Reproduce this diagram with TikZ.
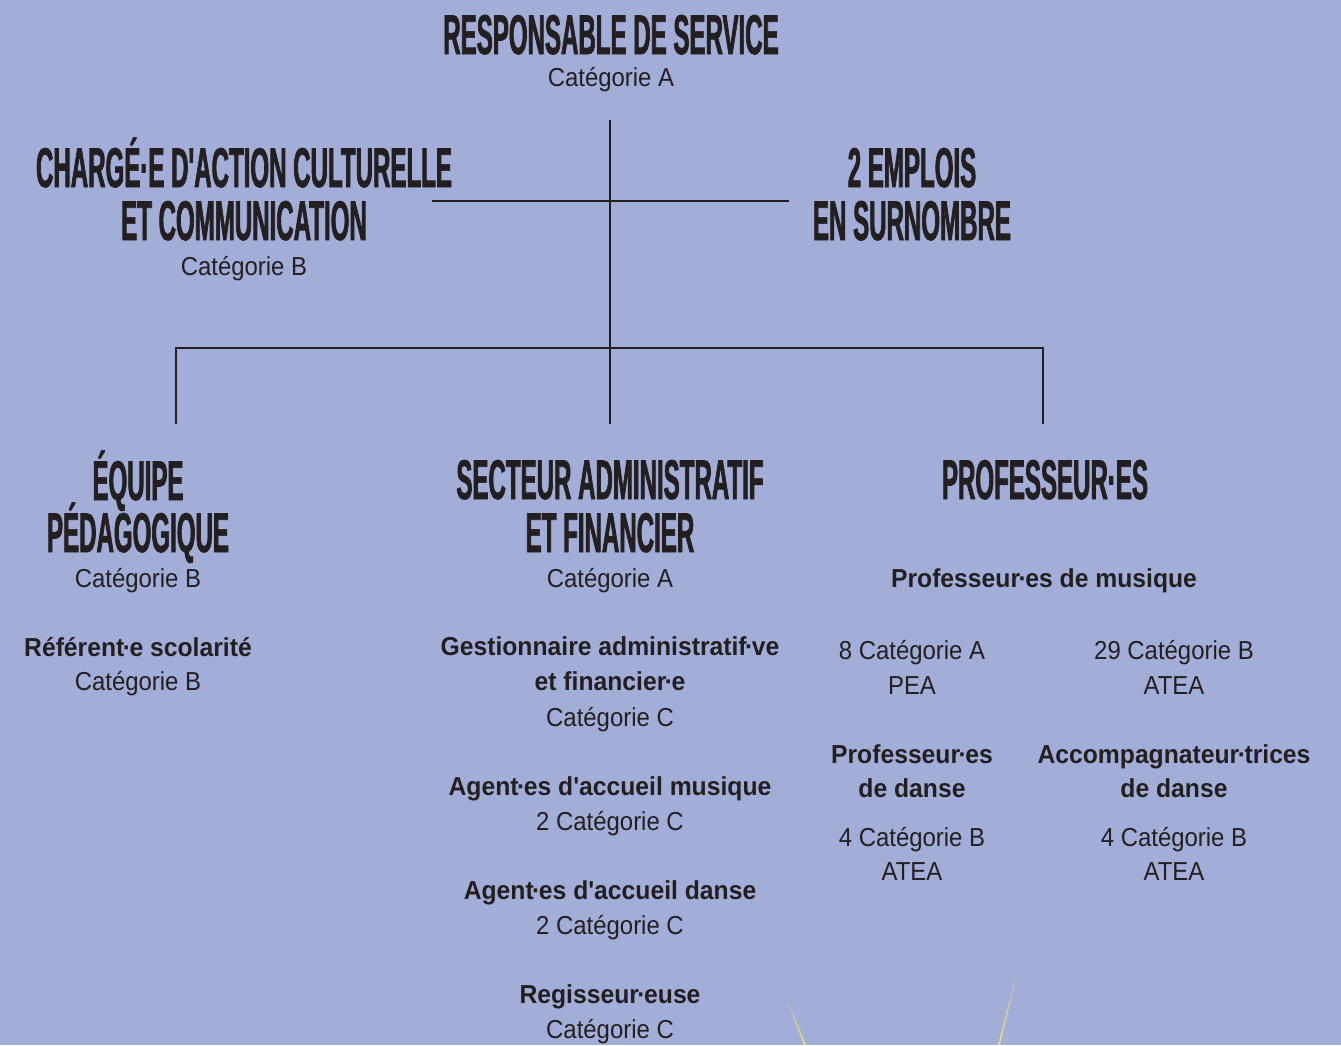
\documentclass[tikz,border=0pt]{standalone}
\usepackage{fontspec}
\usetikzlibrary{fadings}
\newfontfamily\headfont[FakeStretch=0.43,FakeBold=1.2]{Liberation Sans}
\newfontfamily\bodyfont[FakeStretch=0.92]{Liberation Sans}
\newfontfamily\bodybold[FakeStretch=0.95]{Liberation Sans}
\newcommand{\md}{\kern-1.5pt·\kern-1.5pt}
\definecolor{bg}{HTML}{A3AED8}
\definecolor{ink}{HTML}{231F20}
\definecolor{yel}{HTML}{F4E46A}
\begin{document}
\begin{tikzpicture}[x=1pt,y=-1pt,
  hd/.style={font=\headfont\bfseries\fontsize{56}{56}\selectfont, text=ink, anchor=base, inner sep=0pt},
  rg/.style={font=\bodyfont\fontsize{26}{26}\selectfont, text=ink, anchor=base, inner sep=0pt},
  bd/.style={font=\bodybold\bfseries\fontsize{26}{26}\selectfont, text=ink, anchor=base, inner sep=0pt},
  link/.style={draw=ink, line width=1.4pt},
  ray/.style={draw=yel, line width=1.6pt, path fading=north}]
\fill[bg] (0,0) rectangle (1341,1045);
\useasboundingbox (0,0) rectangle (1341,1045);

% top
\node[hd] (resp) at (611,54) {RESPONSABLE DE SERVICE};
\node[rg] (respcat) at (611,86) {Catégorie A};

% second level
\node[hd] (charge1) at (244,187) {CHARGÉ·E D'ACTION CULTURELLE};
\node[hd] (charge2) at (244,240) {ET COMMUNICATION};
\node[rg] (chargecat) at (244,275) {Catégorie B};
\node[hd] (empl1) at (912,187) {2 EMPLOIS};
\node[hd] (empl2) at (912,240) {EN SURNOMBRE};

% left column
\node[hd] (eq1) at (138,500) {ÉQUIPE};
\node[hd] (eq2) at (138,552) {PÉDAGOGIQUE};
\node[rg] (eqcat) at (138,587) {Catégorie B};
\node[bd] (ref) at (138,656) {Référent\md e scolarité};
\node[rg] (refcat) at (138,690) {Catégorie B};

% middle column
\node[hd] (sec1) at (610,499) {SECTEUR ADMINISTRATIF};
\node[hd] (sec2) at (610,552) {ET FINANCIER};
\node[rg] (seccat) at (610,587) {Catégorie A};
\node[bd] (gest1) at (610,655) {Gestionnaire administratif\md ve};
\node[bd] (gest2) at (610,690) {et financier\md e};
\node[rg] (gestcat) at (610,726) {Catégorie C};
\node[bd] (agm) at (610,795) {Agent\md es d'accueil musique};
\node[rg] (agmcat) at (610,830) {2 Catégorie C};
\node[bd] (agd) at (610,899) {Agent\md es d'accueil danse};
\node[rg] (agdcat) at (610,934) {2 Catégorie C};
\node[bd] (reg) at (610,1003) {Regisseur\md euse};
\node[rg] (regcat) at (610,1038) {Catégorie C};

% right column
\node[hd] (prof) at (1045,499) {PROFESSEUR·ES};
\node[bd] (musique) at (1044,587) {Professeur\md es de musique};
\node[rg] (pea1) at (912,659) {8 Catégorie A};
\node[rg] (pea2) at (912,694) {PEA};
\node[rg] (atea1) at (1174,659) {29 Catégorie B};
\node[rg] (atea2) at (1174,694) {ATEA};
\node[bd] (danse1) at (912,763) {Professeur\md es};
\node[bd] (danse2) at (912,797) {de danse};
\node[bd] (acc1) at (1174,763) {Accompagnateur\md trices};
\node[bd] (acc2) at (1174,797) {de danse};
\node[rg] (dcat1) at (912,846) {4 Catégorie B};
\node[rg] (dcat2) at (912,880) {ATEA};
\node[rg] (acat1) at (1174,846) {4 Catégorie B};
\node[rg] (acat2) at (1174,880) {ATEA};

% connectors
\coordinate (t0) at (610,120);
\coordinate (mb) at (610,424);
\coordinate (lend) at (432,201);
\coordinate (rend) at (789,201);
\coordinate (lb) at (176,424);
\coordinate (ltop) at (176,348);
\coordinate (rtop) at (1043,348);
\coordinate (rb) at (1043,424);
\draw[link] (t0) -- (mb);
\draw[link] (lend) -- (rend);
\draw[link] (lb) -- (ltop) -- (rtop) -- (rb);

% yellow rays
\coordinate (y1a) at (786,997);
\coordinate (y1b) at (805,1045);
\coordinate (y2a) at (1017,972);
\coordinate (y2b) at (999,1045);
\draw[ray] (y1a) -- (y1b);
\draw[ray] (y2a) -- (y2b);
\end{tikzpicture}
\end{document}
